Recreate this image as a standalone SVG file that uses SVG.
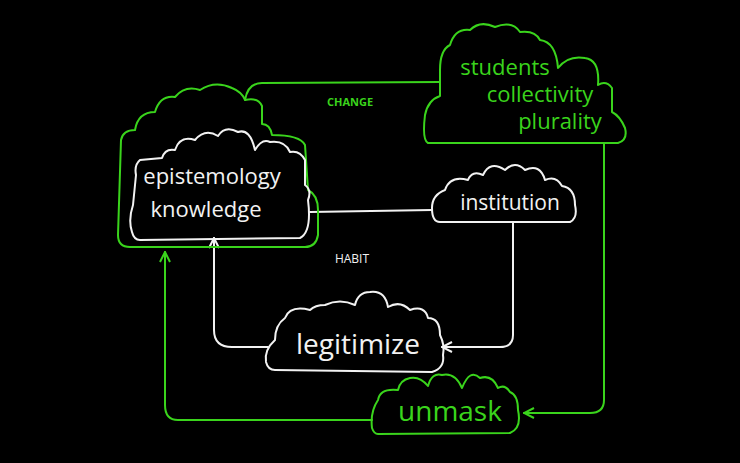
<svg xmlns="http://www.w3.org/2000/svg" width="740" height="463" viewBox="0 0 740 463">
<defs>
<style>
.g{fill:none;stroke:#3ad41c;stroke-width:2;stroke-linejoin:round;stroke-linecap:round}
.w{fill:none;stroke:#f2f2f2;stroke-width:2;stroke-linejoin:round;stroke-linecap:round}
.tg{fill:#3ad41c;font-family:"Open Sans","DejaVu Sans",sans-serif}
.tw{fill:#f2f2f2;font-family:"Open Sans","DejaVu Sans",sans-serif}
</style>
<marker id="ag" viewBox="0 0 12 12" refX="11" refY="6" markerWidth="12" markerHeight="12" markerUnits="userSpaceOnUse" orient="auto"><path d="M1,1 L11,6 L1,11" fill="none" stroke="#3ad41c" stroke-width="2"/></marker>
<marker id="aw" viewBox="0 0 12 12" refX="11" refY="6" markerWidth="12" markerHeight="12" markerUnits="userSpaceOnUse" orient="auto"><path d="M1,1 L11,6 L1,11" fill="none" stroke="#f2f2f2" stroke-width="2"/></marker>
</defs>
<rect width="740" height="463" fill="#000"/>
<g id="connectors">
<path class="g" d="M245,100 Q248,83 262,83 L440,82"/>
<path class="g" d="M604,143 L604,400 Q604,413 590,413 L524,413" marker-end="url(#ag)"/>
<path class="g" d="M372,420 L178,420 Q165,420 165,405 L165,252" marker-end="url(#ag)"/>
<path class="w" d="M310,212 L432,210"/>
<path class="w" d="M513,222 L513,335 Q513,347 500,347 L442,347" marker-end="url(#aw)"/>
<path class="w" d="M268,347 L232,347 Q214,347 214,330 L214,238" marker-end="url(#aw)"/>
</g>
<g id="outer-cloud">
<path class="g" d="M130,247 Q118,247 118,235 L121,140 Q123,130 135,130 Q138,112 155,112 Q160,95 175,97 Q185,85 200,90 Q215,80 232,88 Q242,92 245,100 Q258,97 262,106 L262,124 Q270,124 272,135 Q300,135 305,145 L308,190 Q318,195 318,210 L318,235 Q316,247 305,247 Z"/>
</g>
<g id="students">
<path class="g" d="M428,143 L618,143 Q628,140 625,128 Q620,116 612,112 L612,88 Q606,80 598,85 Q600,60 585,58 Q568,55 558,68 Q556,42 540,40 Q535,30 520,32 Q512,20 495,27 Q480,20 470,30 Q455,28 450,45 Q440,50 440,70 L440,96 Q428,100 425,115 Q422,140 428,143 Z"/>
<text class="tg" x="505" y="75" font-size="22" text-anchor="middle">students</text>
<text class="tg" x="540" y="102" font-size="22" text-anchor="middle">collectivity</text>
<text class="tg" x="560" y="129" font-size="22" text-anchor="middle">plurality</text>
</g>
<g id="epistemology">
<path class="w" d="M140,240 L300,238 Q312,232 308,200 Q312,190 305,185 L305,160 Q300,150 290,152 Q285,140 270,142 Q262,138 255,150 Q250,128 238,132 Q225,125 218,136 Q205,128 195,140 Q180,135 175,150 Q165,148 162,158 L140,160 Q134,165 136,175 L133,205 Q128,220 132,232 Q134,240 140,240 Z"/>
<text class="tw" x="212" y="184" font-size="22" text-anchor="middle">epistemology</text>
<text class="tw" x="206" y="217" font-size="22" text-anchor="middle">knowledge</text>
</g>
<g id="institution">
<path class="w" d="M440,222 L570,222 Q578,218 575,205 Q575,188 562,186 Q556,175 545,180 Q540,163 525,170 Q515,160 505,170 Q490,160 483,175 Q472,170 468,180 Q450,175 445,190 Q432,195 432,208 Q432,222 440,222 Z"/>
<text class="tw" x="510" y="210" font-size="21" text-anchor="middle">institution</text>
</g>
<g id="legitimize">
<path class="w" d="M275,370 L432,372 Q445,368 443,355 Q445,345 440,335 Q440,318 428,318 Q425,305 410,310 Q400,300 388,307 Q385,290 370,292 Q358,292 355,305 Q340,298 325,305 Q315,305 310,310 Q290,305 285,318 Q275,325 275,340 Q264,350 266,362 Q268,370 275,370 Z"/>
<text class="tw" x="358" y="354" font-size="28" text-anchor="middle">legitimize</text>
</g>
<g id="unmask">
<path class="g" d="M378,434 L510,433 Q522,428 518,410 Q518,395 510,392 Q505,384 498,388 Q492,374 480,378 Q470,368 462,388 Q455,372 442,375 Q432,372 428,386 Q420,376 410,378 Q400,380 398,390 Q380,388 378,400 Q370,412 372,428 Q374,434 378,434 Z"/>
<text class="tg" x="450" y="421" font-size="28" text-anchor="middle">unmask</text>
</g>
<text class="tg" x="350" y="106" font-size="11" font-weight="bold" text-anchor="middle">CHANGE</text>
<text class="tw" x="352" y="263" font-size="12" text-anchor="middle">HABIT</text>
</svg>
